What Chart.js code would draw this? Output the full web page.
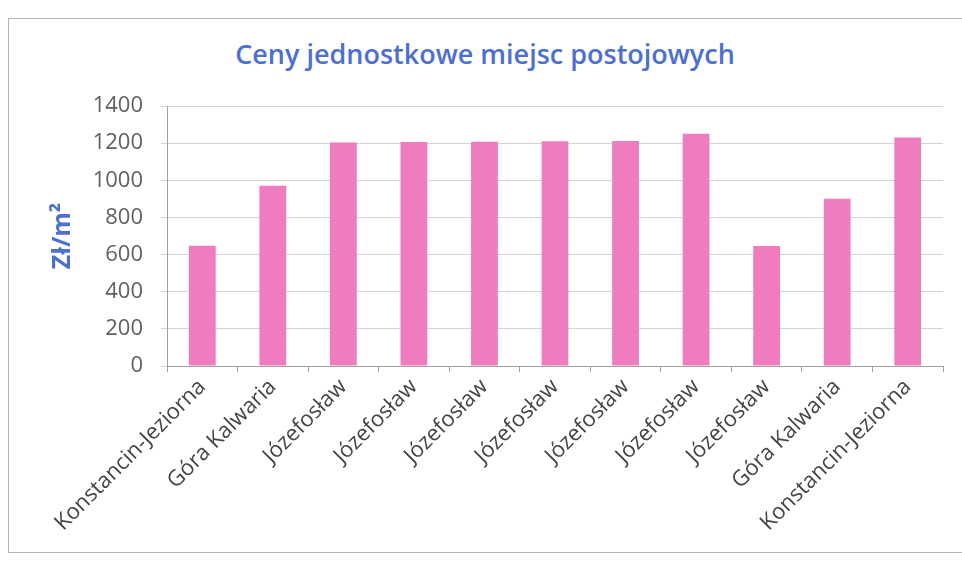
<!DOCTYPE html>
<html>
<head>
<meta charset="utf-8">
<script src="https://cdn.jsdelivr.net/npm/chart.js@4"></script>
<style>
    body { margin: 0; background: #fff; overflow: hidden; }
    #frame { position: absolute; left: 8px; top: 18px; width: 1000px; height: 533px; border: 1px solid #b5b5b5; }
    #title { position: absolute; left: 0; width: 970px; top: 35px; text-align: center;
             font-family: 'Open Sans', sans-serif; font-weight: 600; font-size: 27px; color: #4d6fd0; }
    #wrap { position: absolute; left: 0; top: 0; width: 962px; height: 561px; }
</style>
</head>
<body>
<div id="frame"></div>
<div id="title">Ceny jednostkowe miejsc postojowych</div>
<div id="wrap"><canvas id="priceChart"></canvas></div>
<script>
const towns = ['Konstancin-Jeziorna', 'Góra Kalwaria', 'Józefosław', 'Józefosław', 'Józefosław', 'Józefosław',
    'Józefosław', 'Józefosław', 'Józefosław', 'Góra Kalwaria', 'Konstancin-Jeziorna'];
const prices = [648, 970, 1204, 1206, 1208, 1210, 1212, 1250, 646, 900, 1230];
const yTicks = [0, 200, 400, 600, 800, 1000, 1200, 1400];

const PriceChart = {
    init: () => {
        const ctx = document.getElementById('priceChart').getContext('2d');
        new Chart(ctx, {
            type: 'bar',
            data: {
                labels: towns,
                datasets: [{
                    label: 'Zł/m²',
                    data: prices,
                    backgroundColor: '#ef7cbf',
                    borderWidth: 0,
                    barPercentage: 0.38,
                    categoryPercentage: 1
                }]
            },
            options: {
                responsive: true,
                maintainAspectRatio: false,
                animation: false,
                layout: { padding: { left: 44, right: 19, top: 106, bottom: 20 } },
                plugins: {
                    legend: { display: false },
                    tooltip: { enabled: false }
                },
                scales: {
                    y: {
                        min: 0,
                        max: 1400,
                        afterBuildTicks: (scale) => { scale.ticks = yTicks.map(v => ({ value: v })); },
                        afterFit: (scale) => { scale.width = 123; },
                        border: { color: '#a0a0a0' },
                        grid: { color: '#d4d4d4', tickLength: 6 },
                        ticks: {
                            color: '#606060',
                            padding: 18,
                            font: { family: 'Open Sans', size: 22 },
                            callback: (v) => String(v)
                        },
                        title: {
                            display: true,
                            text: 'Zł/m²',
                            color: '#4d6fd0',
                            padding: { top: 4, bottom: 0 },
                            font: { family: 'Open Sans', size: 25, weight: 'bold' }
                        }
                    },
                    x: {
                        afterFit: (scale) => { scale.height = 175; },
                        border: { color: '#a0a0a0' },
                        grid: { display: true, drawOnChartArea: false, color: '#a0a0a0', tickLength: 6 },
                        ticks: {
                            color: '#454545',
                            minRotation: 45,
                            maxRotation: 45,
                            padding: 2,
                            font: { family: 'Open Sans', size: 22 }
                        }
                    }
                }
            }
        });
    }
};

PriceChart.init();
</script>
</body>
</html>
